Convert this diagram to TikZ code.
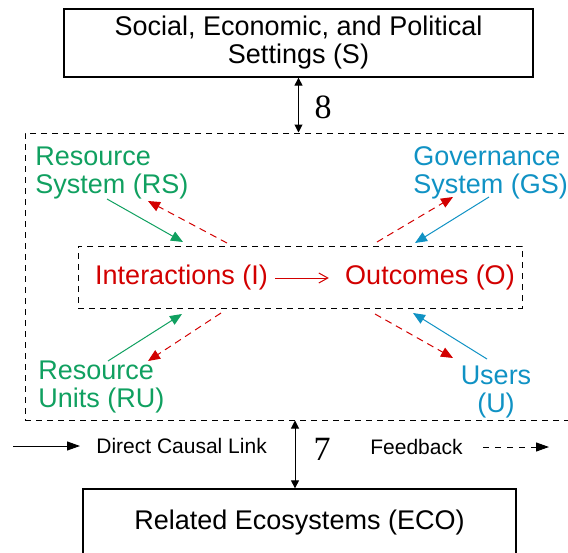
\documentclass[tikz,border=0pt]{standalone}
\usepackage{fontspec}
\setmainfont{Liberation Sans}
\newfontfamily\numfont{Liberation Serif}
\usepackage{xcolor}
\usetikzlibrary{arrows.meta,positioning}
\definecolor{rsgreen}{RGB}{16,160,96}
\definecolor{gsblue}{RGB}{16,146,196}
\definecolor{fbred}{RGB}{210,0,0}

\begin{document}
\begin{tikzpicture}[x=0.5pt, y=-0.5pt,
    lab/.style={inner sep=0pt, font=\fontsize{13.5pt}{14pt}\selectfont},
    legend/.style={inner ysep=0pt, font=\fontsize{10.5pt}{12pt}\selectfont},
    num/.style={inner sep=0pt, font=\numfont\fontsize{17pt}{18pt}\selectfont},
    setbox/.style={draw, line width=0.65pt, align=center, inner sep=0pt, font=\fontsize{13.5pt}{14pt}\selectfont},
    dashbox/.style={draw, line width=0.5pt, dash pattern=on 3pt off 2.5pt, inner sep=0pt},
    cause/.style={->, >={Triangle[length=6pt,width=5pt]}, line width=0.5pt},
    fbk/.style={->, >={Triangle[length=6pt,width=5pt]}, line width=0.5pt, color=fbred, dash pattern=on 3.5pt off 2.5pt},
    dbl/.style={<->, >={Triangle[length=4pt,width=4pt]}, line width=0.5pt}]
\useasboundingbox (0,0) rectangle (568,552);
\node[setbox, minimum width=234.5pt, minimum height=34pt] (set) at (298.5,43) {Social, Economic, and Political\\Settings (S)};
\node[dashbox, minimum width=277.5pt, minimum height=143.5pt] (sys) at (302.5,276.5) {};
\node[dashbox, minimum width=222pt, minimum height=31pt] (core) at (300,277) {};
\node[setbox, minimum width=216.5pt, minimum height=34pt] (eco) at (299.5,523) {Related Ecosystems (ECO)};
\node[lab, inner xsep=3.5pt, text=fbred] (int) at (181.5,278) {Interactions (I)};
\node[lab, inner xsep=3.5pt, text=fbred] (out) at (430,278) {Outcomes (O)};
\node[lab, text=rsgreen, align=left, anchor=west] (rs) at (35,173) {Resource\\System (RS)};
\node[lab, text=gsblue, align=left, anchor=west] (gs) at (413,173) {Governance\\System (GS)};
\node[lab, text=rsgreen, align=left, anchor=west] (ru) at (38,387) {Resource\\Units (RU)};
\node[lab, text=gsblue, align=center] (us) at (496,392) {Users\\(U)};
\node[num] (n8) at (323,107) {8};
\node[num] (n7) at (322,449) {7};
\node[legend, inner xsep=8pt, anchor=west] (dcl) at (80,446) {Direct Causal Link};
\node[legend, inner xsep=10pt, anchor=east] (fb) at (483,447) {Feedback};
\coordinate (rs-a) at (107,199);
\coordinate (rs-b) at (183,242);
\coordinate (rs-c) at (227,243);
\coordinate (rs-d) at (148,201);
\coordinate (gs-a) at (489,197);
\coordinate (gs-b) at (415,243);
\coordinate (gs-c) at (377,242);
\coordinate (gs-d) at (453,197);
\coordinate (ru-a) at (108,361);
\coordinate (ru-b) at (182,314);
\coordinate (ru-c) at (221,313);
\coordinate (ru-d) at (148,361);
\coordinate (us-a) at (487,359);
\coordinate (us-b) at (413,313);
\coordinate (us-c) at (375,314);
\coordinate (us-d) at (453,358);
\coordinate (dcl-a) at (13,446);
\coordinate (fb-a) at (549,447);
\draw [dbl] (set.south) -- (set.south |- sys.north);
\draw [dbl] ([xshift=-2.25pt]eco.north) -- ([xshift=-2.25pt]eco.north |- sys.south);
\draw [->, >={Straight Barb[length=4.5pt,width=5pt]}, line width=0.5pt, color=fbred, shorten >=4.5pt] (int) -- (out);
\draw [cause, color=rsgreen] (rs-a) -- (rs-b);
\draw [fbk] (rs-c) -- (rs-d);
\draw [cause, color=gsblue] (gs-a) -- (gs-b);
\draw [fbk] (gs-c) -- (gs-d);
\draw [cause, color=rsgreen] (ru-a) -- (ru-b);
\draw [fbk] (ru-c) -- (ru-d);
\draw [cause, color=gsblue] (us-a) -- (us-b);
\draw [fbk] (us-c) -- (us-d);
\draw [cause, >={Triangle[length=6.5pt,width=4.5pt]}] (dcl-a) -- (dcl);
\draw [fbk, color=black, dash pattern=on 3pt off 3pt, >={Triangle[length=6.5pt,width=4.5pt]}] (fb) -- (fb-a);
\end{tikzpicture}
\end{document}
